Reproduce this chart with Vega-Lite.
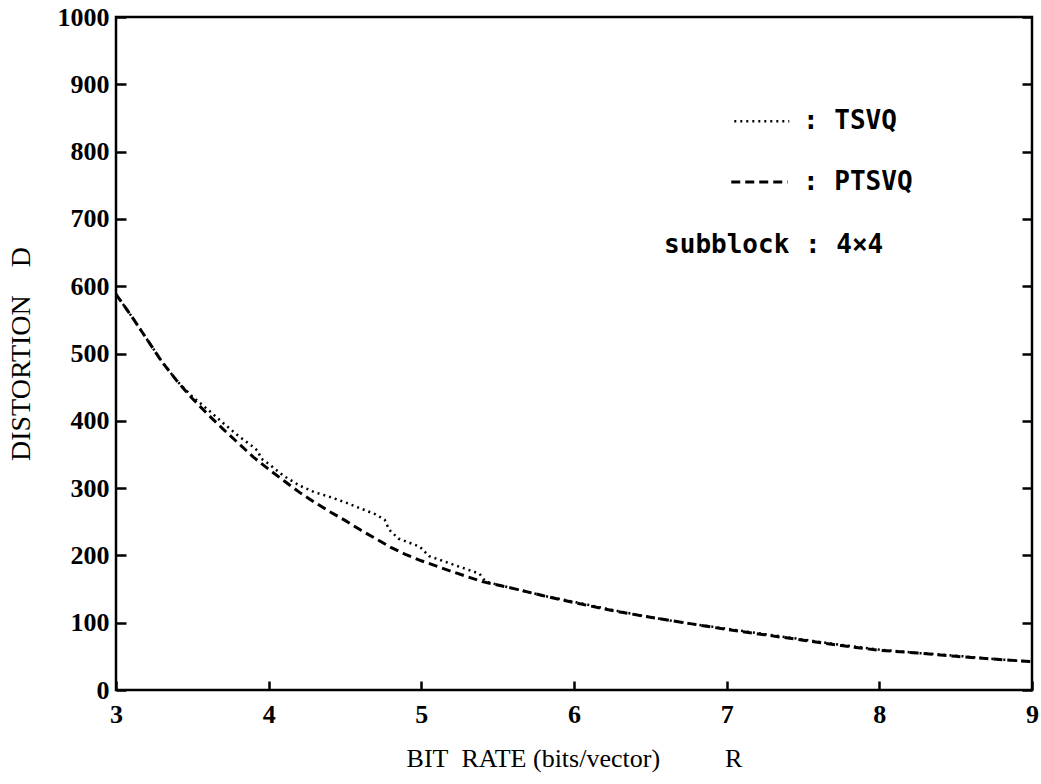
{
  "$schema": "https://vega.github.io/schema/vega-lite/v6.json",
  "width": 916,
  "height": 673,
  "autosize": {"type": "none"},
  "padding": {"left": 116, "top": 17, "right": 9, "bottom": 94},
  "background": "white",
  "config": {
    "view": {"stroke": "black", "strokeWidth": 2.5},
    "axis": {
      "grid": false,
      "domain": false,
      "tickColor": "black",
      "tickWidth": 2.5,
      "labelColor": "black",
      "labelFont": "Liberation Serif",
      "labelFontWeight": "bold",
      "labelFontSize": 26,
      "labelFlush": false,
      "labelOverlap": false,
      "titleColor": "black",
      "titleFont": "Liberation Serif",
      "titleFontWeight": "normal"
    }
  },
  "resolve": {"axis": {"y": "independent"}},
  "layer": [
    {
      "data": {
        "values": [
          {"series": "PTSVQ", "seg": "P", "R": 3.0, "D": 588},
          {"series": "PTSVQ", "seg": "P", "R": 3.1, "D": 556},
          {"series": "PTSVQ", "seg": "P", "R": 3.2, "D": 522},
          {"series": "PTSVQ", "seg": "P", "R": 3.3, "D": 488},
          {"series": "PTSVQ", "seg": "P", "R": 3.4, "D": 459},
          {"series": "PTSVQ", "seg": "P", "R": 3.5, "D": 433},
          {"series": "PTSVQ", "seg": "P", "R": 3.6, "D": 410},
          {"series": "PTSVQ", "seg": "P", "R": 3.7, "D": 388},
          {"series": "PTSVQ", "seg": "P", "R": 3.8, "D": 367},
          {"series": "PTSVQ", "seg": "P", "R": 3.9, "D": 346},
          {"series": "PTSVQ", "seg": "P", "R": 4.0, "D": 328},
          {"series": "PTSVQ", "seg": "P", "R": 4.1, "D": 311},
          {"series": "PTSVQ", "seg": "P", "R": 4.2, "D": 294},
          {"series": "PTSVQ", "seg": "P", "R": 4.3, "D": 279},
          {"series": "PTSVQ", "seg": "P", "R": 4.4, "D": 265},
          {"series": "PTSVQ", "seg": "P", "R": 4.5, "D": 252},
          {"series": "PTSVQ", "seg": "P", "R": 4.6, "D": 238},
          {"series": "PTSVQ", "seg": "P", "R": 4.7, "D": 225},
          {"series": "PTSVQ", "seg": "P", "R": 4.8, "D": 212},
          {"series": "PTSVQ", "seg": "P", "R": 4.9, "D": 201},
          {"series": "PTSVQ", "seg": "P", "R": 5.0, "D": 192},
          {"series": "PTSVQ", "seg": "P", "R": 5.2, "D": 176},
          {"series": "PTSVQ", "seg": "P", "R": 5.4, "D": 161},
          {"series": "PTSVQ", "seg": "P", "R": 5.6, "D": 151},
          {"series": "PTSVQ", "seg": "P", "R": 5.8, "D": 140},
          {"series": "PTSVQ", "seg": "P", "R": 6.0, "D": 130},
          {"series": "PTSVQ", "seg": "P", "R": 6.25, "D": 118},
          {"series": "PTSVQ", "seg": "P", "R": 6.5, "D": 108},
          {"series": "PTSVQ", "seg": "P", "R": 6.75, "D": 99},
          {"series": "PTSVQ", "seg": "P", "R": 7.0, "D": 90},
          {"series": "PTSVQ", "seg": "P", "R": 7.25, "D": 82},
          {"series": "PTSVQ", "seg": "P", "R": 7.5, "D": 74},
          {"series": "PTSVQ", "seg": "P", "R": 7.75, "D": 66},
          {"series": "PTSVQ", "seg": "P", "R": 8.0, "D": 59},
          {"series": "PTSVQ", "seg": "P", "R": 8.25, "D": 55},
          {"series": "PTSVQ", "seg": "P", "R": 8.5, "D": 50},
          {"series": "PTSVQ", "seg": "P", "R": 8.75, "D": 46},
          {"series": "PTSVQ", "seg": "P", "R": 9.0, "D": 42},
          {"series": "TSVQ", "seg": "T", "R": 3.0, "D": 588},
          {"series": "TSVQ", "seg": "T", "R": 3.1, "D": 556},
          {"series": "TSVQ", "seg": "T", "R": 3.2, "D": 522},
          {"series": "TSVQ", "seg": "T", "R": 3.3, "D": 488},
          {"series": "TSVQ", "seg": "T", "R": 3.4, "D": 459},
          {"series": "TSVQ", "seg": "T", "R": 3.5, "D": 436},
          {"series": "TSVQ", "seg": "T", "R": 3.6, "D": 417},
          {"series": "TSVQ", "seg": "T", "R": 3.7, "D": 397},
          {"series": "TSVQ", "seg": "T", "R": 3.8, "D": 378},
          {"series": "TSVQ", "seg": "T", "R": 3.9, "D": 361},
          {"series": "TSVQ", "seg": "T", "R": 3.93, "D": 355},
          {"series": "TSVQ", "seg": "T", "R": 3.95, "D": 344},
          {"series": "TSVQ", "seg": "T", "R": 4.0, "D": 336},
          {"series": "TSVQ", "seg": "T", "R": 4.1, "D": 318},
          {"series": "TSVQ", "seg": "T", "R": 4.2, "D": 304},
          {"series": "TSVQ", "seg": "T", "R": 4.3, "D": 294},
          {"series": "TSVQ", "seg": "T", "R": 4.4, "D": 287},
          {"series": "TSVQ", "seg": "T", "R": 4.5, "D": 279},
          {"series": "TSVQ", "seg": "T", "R": 4.6, "D": 270},
          {"series": "TSVQ", "seg": "T", "R": 4.7, "D": 261},
          {"series": "TSVQ", "seg": "T", "R": 4.76, "D": 253},
          {"series": "TSVQ", "seg": "T", "R": 4.79, "D": 238},
          {"series": "TSVQ", "seg": "T", "R": 4.85, "D": 225},
          {"series": "TSVQ", "seg": "T", "R": 4.99, "D": 213},
          {"series": "TSVQ", "seg": "T", "R": 5.05, "D": 199},
          {"series": "TSVQ", "seg": "T", "R": 5.2, "D": 187},
          {"series": "TSVQ", "seg": "T", "R": 5.38, "D": 173},
          {"series": "TSVQ", "seg": "T", "R": 5.42, "D": 161},
          {"series": "TSVQ", "seg": "T", "R": 5.6, "D": 151},
          {"series": "TSVQ", "seg": "T", "R": 5.8, "D": 140},
          {"series": "TSVQ", "seg": "T", "R": 6.0, "D": 131},
          {"series": "TSVQ", "seg": "T", "R": 6.25, "D": 119},
          {"series": "TSVQ", "seg": "T", "R": 6.5, "D": 108},
          {"series": "TSVQ", "seg": "T", "R": 6.75, "D": 99},
          {"series": "TSVQ", "seg": "T", "R": 7.0, "D": 91},
          {"series": "TSVQ", "seg": "T", "R": 7.25, "D": 83},
          {"series": "TSVQ", "seg": "T", "R": 7.5, "D": 75},
          {"series": "TSVQ", "seg": "T", "R": 7.75, "D": 67},
          {"series": "TSVQ", "seg": "T", "R": 8.0, "D": 60},
          {"series": "TSVQ", "seg": "T", "R": 8.25, "D": 55},
          {"series": "TSVQ", "seg": "T", "R": 8.5, "D": 51},
          {"series": "TSVQ", "seg": "T", "R": 8.75, "D": 46},
          {"series": "TSVQ", "seg": "T", "R": 9.0, "D": 42},
          {"series": "TSVQ", "seg": "keyT", "R": 7.05, "D": 845},
          {"series": "TSVQ", "seg": "keyT", "R": 7.41, "D": 845},
          {"series": "PTSVQ", "seg": "keyP", "R": 7.03, "D": 755},
          {"series": "PTSVQ", "seg": "keyP", "R": 7.4, "D": 755}
        ]
      },
      "mark": {"type": "line", "color": "black", "clip": true},
      "encoding": {
        "x": {
          "field": "R",
          "type": "quantitative",
          "scale": {"domain": [3, 9], "nice": false, "zero": false},
          "axis": {
            "values": [3, 4, 5, 6, 7, 8, 9],
            "format": "d",
            "tickSize": -9,
            "labelPadding": 20,
            "title": "BIT\u00a0\u00a0RATE (bits/vector)\u00a0\u00a0\u00a0\u00a0\u00a0\u00a0\u00a0\u00a0\u00a0\u00a0R",
            "titleFontSize": 26,
            "titleY": 68,
            "titleBaseline": "middle"
          }
        },
        "y": {
          "field": "D",
          "type": "quantitative",
          "scale": {"domain": [0, 1000], "nice": false},
          "axis": {
            "values": [0, 100, 200, 300, 400, 500, 600, 700, 800, 900, 1000],
            "format": "d",
            "tickSize": -10,
            "labelPadding": 17,
            "title": "DISTORTION\u00a0\u00a0\u00a0\u00a0D",
            "titleFontSize": 28,
            "titleX": -95,
            "titleBaseline": "middle"
          }
        },
        "detail": {"field": "seg"},
        "strokeDash": {
          "field": "series",
          "type": "nominal",
          "scale": {"domain": ["TSVQ", "PTSVQ"], "range": [[2, 4], [9, 5]]},
          "legend": null
        },
        "strokeWidth": {
          "field": "series",
          "type": "nominal",
          "scale": {"domain": ["TSVQ", "PTSVQ"], "range": [2.5, 3]},
          "legend": null
        }
      }
    },
    {
      "data": {
        "values": [
          {"R": 7.5, "D": 845, "label": ": TSVQ"},
          {"R": 7.5, "D": 755, "label": ": PTSVQ"},
          {"R": 6.59, "D": 661, "label": "subblock : 4×4"}
        ]
      },
      "mark": {
        "type": "text",
        "align": "left",
        "baseline": "middle",
        "font": "DejaVu Sans Mono",
        "fontWeight": "bold",
        "fontSize": 26,
        "color": "black"
      },
      "encoding": {
        "x": {"field": "R", "type": "quantitative"},
        "y": {"field": "D", "type": "quantitative", "axis": null},
        "text": {"field": "label"}
      }
    },
    {
      "data": {"values": [{"D": 0}, {"D": 1000}]},
      "mark": {"type": "point", "opacity": 0},
      "encoding": {
        "y": {
          "field": "D",
          "type": "quantitative",
          "axis": {
            "orient": "right",
            "values": [0, 100, 200, 300, 400, 500, 600, 700, 800, 900, 1000],
            "tickSize": -10,
            "labels": false,
            "title": null
          }
        }
      }
    }
  ]
}
